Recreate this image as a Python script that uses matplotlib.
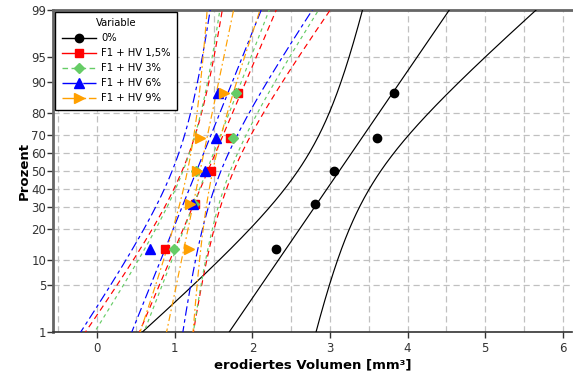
import numpy as np
import matplotlib
matplotlib.use("Agg")
import matplotlib.pyplot as plt
from matplotlib.lines import Line2D
from statistics import NormalDist

# ---- data ----
labels = ["0%", "F1 + HV 1,5%", "F1 + HV 3%", "F1 + HV 6%", "F1 + HV 9%"]
v0 = [2.31, 2.81, 3.05, 3.61, 3.82]
v15 = [0.87, 1.26, 1.47, 1.71, 1.82]
v3 = [0.99, 1.25, 1.27, 1.75, 1.79]
v6 = [0.68, 1.24, 1.39, 1.53, 1.56]
v9 = [1.18, 1.20, 1.28, 1.33, 1.64]
series = [v0, v15, v3, v6, v9]
ytick_pct = [1, 5, 10, 20, 30, 40, 50, 60, 70, 80, 90, 95, 99]
xticks = [0, 1, 2, 3, 4, 5, 6]

colors = ["black", "#FF0000", "#66CC66", "#0000FF", "#FFA000"]
markers = ["o", "s", "D", "^", ">"]
msizes = [6, 5.5, 5.5, 6.5, 6.5]
lstyles = ["-", (0, (5, 3.5)), (0, (3, 3)), (0, (8, 3, 3, 3)), (0, (6, 2.5, 1.5, 2.5))]
leg_styles = ["-", "-", (0, (4, 2.5)), (0, (12, 3)), (0, (12, 2, 3, 2))]

nd = NormalDist()
def z(p):
    return nd.inv_cdf(p / 100.0)

fig = plt.figure(figsize=(5.73, 3.77), dpi=100)
ax = fig.add_axes([53 / 573, 1 - 332 / 377, (572 - 53) / 573, (332 - 10) / 377])

zlo, zhi = z(1), z(99)
zz = np.linspace(zlo - 0.05, zhi + 0.05, 300)

handles = []
for vals, c, m, ms, ls, lls, lab in zip(series, colors, markers, msizes, lstyles, leg_styles, labels):
    x = np.sort(np.array(vals))
    n = len(x)
    ranks = (np.arange(1, n + 1) - 0.3) / (n + 0.4) * 100
    zp = np.array([z(r) for r in ranks])
    mu = x.mean()
    s = x.std(ddof=1)
    fit = mu + s * zz
    half = 1.96 * s * np.sqrt(1.0 / n + zz ** 2 / (2 * (n - 1)))
    for curve in (fit, fit - half, fit + half):
        ax.plot(curve, zz, color=c, lw=0.85, linestyle=ls, zorder=3)
    ax.plot(x, zp, linestyle="none", marker=m, color=c, markersize=ms, zorder=4)
    handles.append(Line2D([], [], color=c, lw=1.0, linestyle=lls, marker=m,
                          markersize=ms, label=lab))

ax.set_xlim(-0.57, 6.12)
ax.set_ylim(zlo, zhi)
ax.set_yticks([z(p) for p in ytick_pct])
ax.set_yticklabels([str(p) for p in ytick_pct])
ax.set_xticks(xticks)
ax.set_xticklabels([str(t) for t in xticks])
ax.set_xticks(np.arange(-0.5, 6.01, 0.5), minor=True)
ax.tick_params(axis="x", which="minor", length=0)
ax.tick_params(axis="both", which="major", labelsize=8.5, length=4, width=1, colors="#333333")
ax.tick_params(axis="y", which="major", pad=1)
ax.grid(True, which="both", axis="x", color="#c0c0c0", linestyle=(0, (5, 3)), lw=0.9)
ax.grid(True, which="major", axis="y", color="#c0c0c0", linestyle=(0, (5, 3)), lw=0.9)
ax.set_axisbelow(True)

for side in ["left", "top"]:
    ax.spines[side].set_color("#666666")
    ax.spines[side].set_linewidth(2.0)
ax.spines["bottom"].set_color("#333333")
ax.spines["bottom"].set_linewidth(1.2)
ax.spines["right"].set_visible(False)

ax.set_xlabel("erodiertes Volumen [mm³]", fontsize=9.5, fontweight="bold", labelpad=2)
ax.set_ylabel("Prozent", fontsize=9.5, fontweight="bold", labelpad=0)

leg = ax.legend(handles=handles, title="Variable", loc="upper left",
                bbox_to_anchor=(0.004, 0.9938), alignment="center",
                borderaxespad=0, fontsize=7.2, title_fontsize=7.2,
                frameon=True, fancybox=False, framealpha=1, edgecolor="black",
                handlelength=3.4, borderpad=0.65, labelspacing=0.5, handletextpad=0.55)
leg.get_frame().set_linewidth(1.0)

fig.savefig("out.png", dpi=100)
